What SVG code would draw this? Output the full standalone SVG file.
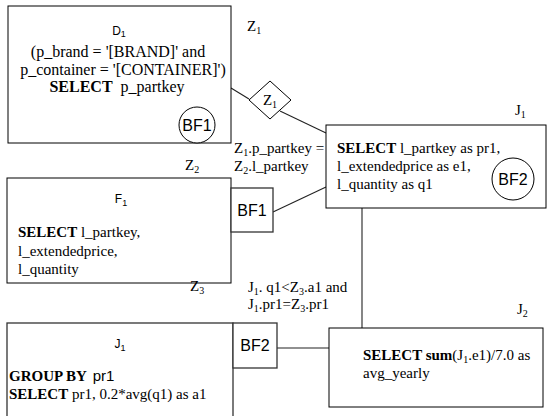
<svg xmlns="http://www.w3.org/2000/svg" width="547" height="416" viewBox="0 0 547 416">
<style>
.box{fill:#fff;stroke:#000;stroke-width:1}
.sq{fill:#fff;stroke:#333;stroke-width:1.3}
.ln{stroke:#222;stroke-width:1.1;fill:none}
.s{font-family:"Liberation Serif","Times New Roman",serif;font-size:15px;fill:#000}
.d{font-size:16px}
.a{font-family:"Liberation Sans",Arial,sans-serif;fill:#000}
.lab{font-size:12px}
.bf{font-size:16px}
.b{font-weight:bold}
.sub{font-size:10px}
.sa{font-size:9px}
</style>
<rect width="547" height="416" fill="#fff"/>
<g id="connectors">
  <line class="ln" x1="231" y1="88" x2="249" y2="99"/>
  <line class="ln" x1="280" y1="111" x2="326" y2="133"/>
  <line class="ln" x1="273" y1="212" x2="326" y2="187"/>
  <line class="ln" x1="362" y1="208" x2="362" y2="328"/>
  <line class="ln" x1="277" y1="348" x2="329" y2="348"/>
</g>
<g id="D1">
  <rect class="box" x="8" y="6" width="223" height="137"/>
  <text class="a lab" x="119" y="35" text-anchor="middle">D<tspan class="sa" dy="2">1</tspan></text>
  <text class="s d" x="118" y="57" text-anchor="middle">(p_brand = '[BRAND]' and</text>
  <text class="s d" x="123" y="75" text-anchor="middle">p_container = '[CONTAINER]')</text>
  <text class="s d" x="117" y="92" text-anchor="middle"><tspan class="b">SELECT</tspan><tspan dx="8">p_partkey</tspan></text>
  <circle cx="197" cy="125" r="18" fill="#fff" stroke="#000" stroke-width="1"/>
  <text class="a bf" x="197" y="131" text-anchor="middle">BF1</text>
</g>
<g id="Z1">
  <text class="s" x="247" y="31">Z<tspan class="sub" dy="3">1</tspan></text>
  <polygon class="box" points="249,100 270,81 291,100 270,119"/>
  <text class="s" x="270" y="105" text-anchor="middle">Z<tspan class="sub" dy="3">1</tspan></text>
</g>
<g id="cond1">
  <text class="s" x="234" y="153">Z<tspan class="sub" dy="3">1</tspan><tspan dy="-3">.p_partkey =</tspan></text>
  <text class="s" x="234" y="171">Z<tspan class="sub" dy="3">2</tspan><tspan dy="-3">.l_partkey</tspan></text>
</g>
<g id="J1top">
  <text class="s" x="515" y="115">J<tspan class="sub" dy="3">1</tspan></text>
  <rect class="box" x="326" y="125" width="220" height="83"/>
  <text class="s" x="337" y="153"><tspan class="b">SELECT</tspan> l_partkey as pr1,</text>
  <text class="s" x="337" y="171">l_extendedprice as e1,</text>
  <text class="s" x="337" y="189">l_quantity as q1</text>
  <circle cx="513" cy="179" r="21" fill="#fff" stroke="#000" stroke-width="1"/>
  <text class="a bf" x="513" y="185" text-anchor="middle">BF2</text>
</g>
<g id="F1">
  <text class="s" x="185" y="170">Z<tspan class="sub" dy="3">2</tspan></text>
  <rect class="box" x="7" y="178" width="224" height="105"/>
  <text class="a lab" x="121" y="203" text-anchor="middle">F<tspan class="sa" dy="3">1</tspan></text>
  <text class="s" x="18" y="237"><tspan class="b">SELECT</tspan> l_partkey,</text>
  <text class="s" x="18" y="256">l_extendedprice,</text>
  <text class="s" x="18" y="274">l_quantity</text>
  <rect class="sq" x="231" y="188" width="42" height="44"/>
  <text class="a bf" x="252" y="216" text-anchor="middle">BF1</text>
</g>
<g id="cond2">
  <text class="s" x="248" y="292">J<tspan class="sub" dy="3">1</tspan><tspan dy="-3">. q1&lt;Z</tspan><tspan class="sub" dy="3">3</tspan><tspan dy="-3">.a1 and</tspan></text>
  <text class="s" x="248" y="309">J<tspan class="sub" dy="3">1</tspan><tspan dy="-3">.pr1=Z</tspan><tspan class="sub" dy="3">3</tspan><tspan dy="-3">.pr1</tspan></text>
</g>
<g id="J1bottom">
  <text class="s" x="190" y="291">Z<tspan class="sub" dy="3">3</tspan></text>
  <rect class="sq" x="7" y="323" width="226" height="100"/>
  <text class="a lab" x="120" y="348" text-anchor="middle">J<tspan class="sa" dy="3">1</tspan></text>
  <text class="s" x="9" y="381"><tspan class="b">GROUP BY</tspan> <tspan class="a" dx="2">pr1</tspan></text>
  <text class="s" x="9" y="399"><tspan class="b">SELECT</tspan> pr1, 0.2*avg(q1) as a1</text>
  <rect class="sq" x="233" y="323" width="44" height="45"/>
  <text class="a bf" x="255" y="351" text-anchor="middle">BF2</text>
</g>
<g id="J2">
  <text class="s" x="517" y="314">J<tspan class="sub" dy="3">2</tspan></text>
  <rect class="box" x="329" y="328" width="214" height="79"/>
  <text class="s" x="363" y="360"><tspan class="b">SELECT sum</tspan>(J<tspan class="sub" dy="3">1</tspan><tspan dy="-3">.e1)/7.0 as</tspan></text>
  <text class="s" x="363" y="378">avg_yearly</text>
</g>
</svg>
